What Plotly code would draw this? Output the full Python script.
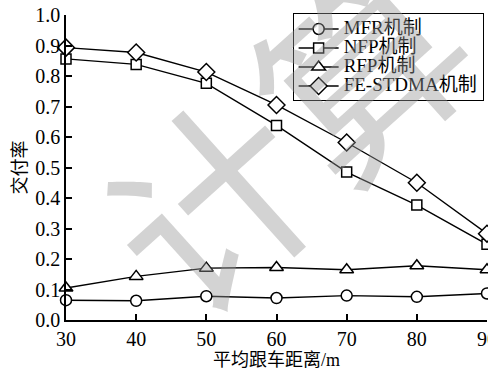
import plotly.graph_objects as go

# Average following distance (m)
distance = [30, 40, 50, 60, 70, 80, 90]

# Delivery ratio for each scheme
mfr = [0.065, 0.063, 0.078, 0.072, 0.080, 0.076, 0.087]
nfp = [0.856, 0.838, 0.776, 0.638, 0.485, 0.377, 0.248]
rfp = [0.105, 0.143, 0.170, 0.172, 0.165, 0.178, 0.165]
fe_stdma = [0.893, 0.877, 0.813, 0.705, 0.582, 0.450, 0.283]

series = [
    ("MFR机制", mfr, "circle", 11),
    ("NFP机制", nfp, "square", 10),
    ("RFP机制", rfp, "triangle-up", 12),
    ("FE-STDMA机制", fe_stdma, "diamond", 13),
]

FONT = "Liberation Serif, Times New Roman, Noto Sans CJK SC, serif"

fig = go.Figure()

for name, vals, sym, size in series:
    fig.add_trace(go.Scatter(
        x=distance, y=vals,
        name='<span style="font-size:19px">' + name + '</span>',
        mode="lines+markers",
        line=dict(color="black", width=1.4),
        marker=dict(symbol=sym, size=size, color="white",
                    line=dict(color="black", width=1.5)),
        cliponaxis=False,
    ))

# Faint diagonal watermark behind the plot
fig.add_annotation(
    text="计算", xref="paper", yref="paper", x=0.51, y=0.62,
    xanchor="center", yanchor="middle", showarrow=False, textangle=-42,
    font=dict(family="Noto Sans CJK SC", size=200, color="rgba(150,150,150,0.42)"),
)

fig.update_layout(
    width=488, height=372,
    margin=dict(l=66, r=1, t=15, b=52, autoexpand=False),
    paper_bgcolor="white", plot_bgcolor="white",
    font=dict(family=FONT, size=18, color="black"),
    showlegend=True,
    legend=dict(
        x=0.992, xanchor="right", y=1.005, yanchor="top",
        bordercolor="black", borderwidth=1, bgcolor="white",
        font=dict(family=FONT, size=12),
        itemwidth=40, tracegroupgap=0,
    ),
    xaxis=dict(
        range=[30, 90], dtick=10, tick0=30, automargin=False,
        showline=True, linecolor="black", linewidth=1.5,
        ticks="inside", ticklen=6, tickwidth=1.5, tickcolor="black",
        showgrid=False, zeroline=False, mirror=False,
        ticklabeloverflow="allow",
        title=dict(text="平均跟车距离/m", font=dict(family=FONT, size=18), standoff=4),
        tickfont=dict(family=FONT, size=20),
    ),
    yaxis=dict(
        range=[0, 1.0], dtick=0.1, tick0=0, tickformat=".1f", automargin=False,
        showline=True, linecolor="black", linewidth=1.5,
        ticks="inside", ticklen=6, tickwidth=1.5, tickcolor="black",
        showgrid=False, zeroline=False, mirror=False,
        title=dict(text="交付率", font=dict(family=FONT, size=18), standoff=4),
        tickfont=dict(family=FONT, size=20),
    ),
)

fig.write_html("out.html")
